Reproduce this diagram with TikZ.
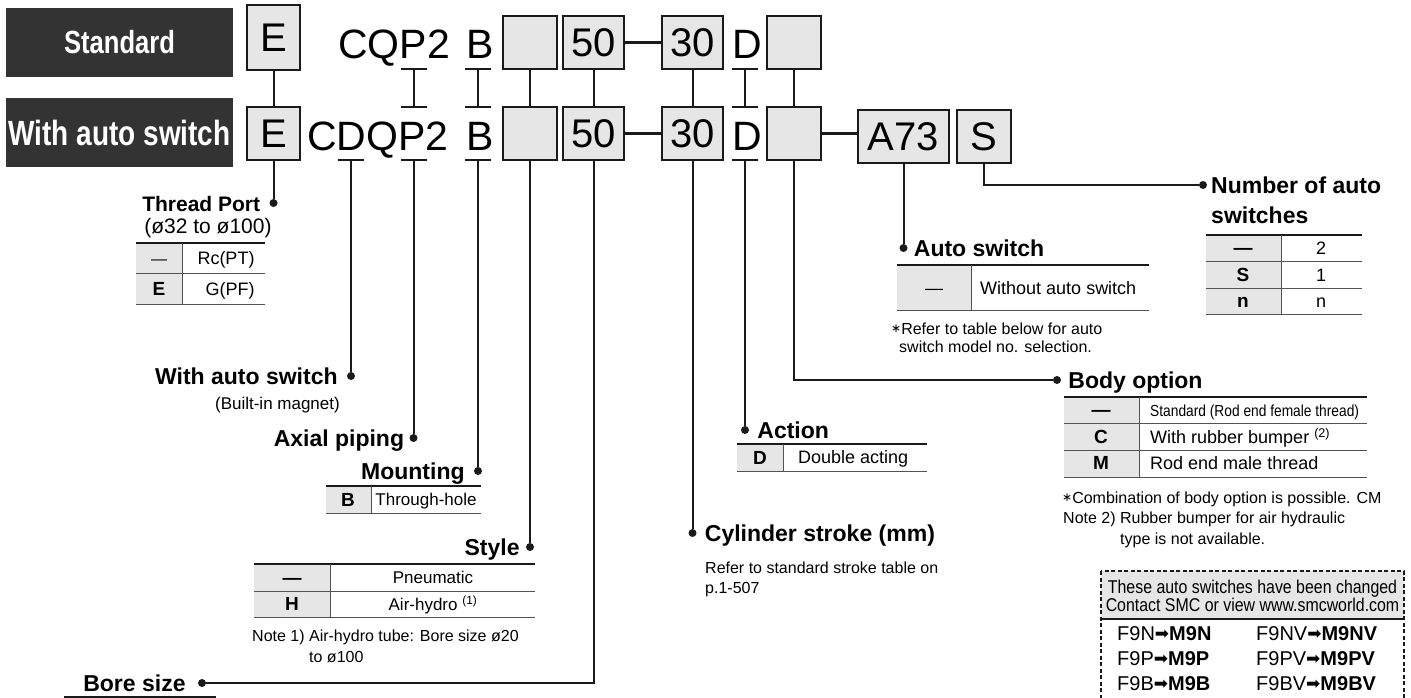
\documentclass[tikz,border=0pt]{standalone}
\usepackage{fontspec}
\setmainfont{Liberation Sans}
\newfontfamily\condfont[FakeStretch=0.8]{Liberation Sans}
\newfontfamily\narrowfont[FakeStretch=0.86]{Liberation Sans}
\newfontfamily\symfont{DejaVu Sans}
\usetikzlibrary{positioning, calc}
\definecolor{bannergray}{HTML}{333333}
\definecolor{boxgray}{HTML}{E6E6E6}
\definecolor{inkline}{HTML}{1A1A1A}
\newcommand{\setpx}[1]{\fontsize{#1}{#1}\selectfont}
\newcommand{\chgarrow}{{\symfont\setpx{17}\raisebox{0.5pt}{➡}}}
\newcommand{\astmark}{{\symfont\setpx{12}\raisebox{2pt}{∗}}}
\tikzset{
  % --- ordering code ---
  banner/.style={fill=bannergray, text=white, inner sep=0pt,
    minimum width=227pt, minimum height=69pt},
  codebox/.style={draw=inkline, line width=2.2pt, fill=boxgray, inner sep=0pt,
    minimum height=53pt, font=\setpx{40}},
  codetext/.style={inner sep=0pt, anchor=base west, font=\setpx{41}},
  link/.style={draw=inkline, line width=2pt},
  joinline/.style={draw=inkline, line width=3pt},
  dot/.style={circle, fill=inkline, inner sep=0pt, minimum size=8pt},
  % --- option labels and tables ---
  lbl/.style={inner sep=0pt, font=\bfseries\setpx{23}, text height=17pt, text depth=0pt},
  note/.style={inner sep=0pt, align=left, anchor=north west},
  cell/.style={inner sep=0pt, font=\setpx{18}, text height=13pt, text depth=0pt},
  keycell/.style={cell, font=\bfseries\setpx{19}},
  toprule/.style={draw=inkline, line width=2pt},
  midrule/.style={draw=inkline!75, line width=1pt},
  dashbox/.style={draw=inkline, line width=2pt, dash pattern=on 4pt off 2.5pt},
}

\begin{document}
\begin{tikzpicture}[x=1pt, y=-1pt, node distance=8pt]
  \useasboundingbox (0,0) rectangle (1411,698);
  \clip (0,0) rectangle (1411,698);

  % ---- Row titles ----
  \node[banner, font=\condfont\bfseries\setpx{32}] (stdbanner) at (119.5,42.5) {Standard};
  \node[banner, font=\condfont\bfseries\setpx{35}] (swbanner) at (119.5,133) {With auto switch};

  % ---- Standard code ----
  \node[codebox, minimum width=53pt, minimum height=65pt] (eT) at (273.5,37.5) {E};
  \node[codetext] (seriesT) at (338,59) {CQP2};
  \node[codetext] (mountT) at (466,59) {B};
  \node[codebox, minimum width=54pt] (blankT) at (530,42.5) {};
  \node[codebox, minimum width=61pt] (boreT) at (593.5,42.5) {50};
  \node[codebox, minimum width=61pt] (strokeT) at (692.5,42.5) {30};
  \node[codetext] (actT) at (732,59) {D};
  \node[codebox, minimum width=54pt] (optT) at (794,42.5) {};

  % ---- Code with auto switch ----
  \node[codebox, minimum width=53pt] (eB) at (273.5,133.5) {E};
  \node[codetext] (seriesB) at (307,150) {CDQP2};
  \node[codetext] (mountB) at (466,150) {B};
  \node[codebox, minimum width=54pt] (blankB) at (530,133.5) {};
  \node[codebox, minimum width=61pt] (boreB) at (593.5,133.5) {50};
  \node[codebox, minimum width=61pt] (strokeB) at (692.5,133.5) {30};
  \node[codetext] (actB) at (732,150) {D};
  \node[codebox, minimum width=54pt] (optB) at (794,133.5) {};
  \node[codebox, minimum width=91pt] (swB) at (903.5,136.5) {A73};
  \node[codebox, minimum width=54pt] (numB) at (984,136.5) {S};

  \draw[joinline] (boreT.east) -- (strokeT.west);
  \draw[joinline] (boreB.east) -- (strokeB.west);
  \draw[joinline] (optB.east) -- (optB.east -| swB.west);

  % ---- Links between the two rows ----
  \foreach \a in {e,blank,bore,stroke,opt}{ \draw[link] (\a T.south) -- (\a B.north); }
  \foreach \n/\x in {p/413.5, b/478, d/745}{
    \coordinate (\n-top) at (\x,69);
    \coordinate (\n-bot) at (\x,107);
    \draw[link] (\n-top) -- (\n-bot);
    \draw[link] ($(\n-top)+(-13,0)$) -- ($(\n-top)+(13,0)$);
    \draw[link] ($(\n-bot)+(-13,0)$) -- ($(\n-bot)+(13,0)$);
  }
  \foreach \n/\x in {q/351, p/413.5, b/478, d/745}{
    \coordinate (\n-low) at (\x,160);
    \draw[link] ($(\n-low)+(-13,0)$) -- ($(\n-low)+(13,0)$);
  }

  % ---- Leaders to the option labels ----
  \node[dot] (portdot) at (273.5,203) {};
  \node[dot] (magdot) at (351,376) {};
  \node[dot] (pipedot) at (413.5,438) {};
  \node[dot] (mountdot) at (478,471) {};
  \node[dot] (styledot) at (530,547) {};
  \node[dot] (boredot) at (202,683) {};
  \node[dot] (strokedot) at (692.5,533) {};
  \node[dot] (actdot) at (745,430) {};
  \node[dot] (optdot) at (1057,380) {};
  \node[dot] (swdot) at (903.5,248) {};
  \node[dot] (numdot) at (1203,185) {};

  \draw[link] (eB.south) -- (portdot);
  \draw[link] (q-low) -- (magdot);
  \draw[link] (p-low) -- (pipedot);
  \draw[link] (b-low) -- (mountdot);
  \draw[link] (blankB.south) -- (styledot);
  \draw[link] (boreB.south) |- (boredot);
  \draw[link] (strokeB.south) -- (strokedot);
  \draw[link] (d-low) -- (actdot);
  \draw[link] (optB.south) |- (optdot);
  \draw[link] (swB.south) -- (swdot);
  \draw[link] (numB.south) |- (numdot);

  % ---- Thread port ----
  \node[lbl, font=\bfseries\setpx{21}, left=9pt of portdot] (portlbl) {Thread Port};
  \node[inner sep=0pt, font=\setpx{21}] (portrange) at (208,228) {(ø32 to ø100)};
  \fill[boxgray] (136,243) rectangle (182,304);
  \draw[toprule] (136,243) -- (265,243);
  \draw[midrule] (136,273) -- (265,273) (136,304) -- (265,304) (182,243) -- (182,304);
  \node[cell, font=\setpx{16}] (portk1) at (159,258) {—};
  \node[cell] (portv1) at (226,258) {Rc(PT)};
  \node[keycell] (portk2) at (159,289) {E};
  \node[cell] (portv2) at (230,289) {G(PF)};

  % ---- Built-in magnet, piping, mounting ----
  \node[lbl, left=9pt of magdot] (maglbl) {With auto switch};
  \node[inner sep=0pt, font=\setpx{17}, anchor=east] (magnote) at (340,405) {(Built-in magnet)};
  \node[lbl, left=5pt of pipedot] (pipelbl) {Axial piping};
  \node[lbl, left=9pt of mountdot] (mountlbl) {Mounting};
  \fill[boxgray] (326,486) rectangle (371,513);
  \draw[toprule] (326,486) -- (481,486);
  \draw[midrule] (326,513) -- (481,513) (371,486) -- (371,513);
  \node[keycell] (mountk1) at (348,500) {B};
  \node[cell, font=\setpx{17}] (mountv1) at (426,499) {Through-hole};

  % ---- Style ----
  \node[lbl, left=6pt of styledot] (stylelbl) {Style};
  \fill[boxgray] (254,564) rectangle (330,617);
  \draw[toprule] (254,564) -- (535,564);
  \draw[midrule] (254,591) -- (535,591) (254,617) -- (535,617) (330,564) -- (330,617);
  \node[keycell] (stylek1) at (292,578) {—};
  \node[cell, font=\setpx{17}] (stylev1) at (433,577) {Pneumatic};
  \node[keycell] (stylek2) at (292,604) {H};
  \node[cell, font=\setpx{17}] (stylev2) at (433,604) {Air-hydro \textsuperscript{(1)}};
  \node[note, font=\fontsize{16}{21}\selectfont] (stylenote) at (252,630)
    {Note 1) Air-hydro tube: Bore size ø20\\\hspace*{57pt}to ø100};

  % ---- Bore size ----
  \node[lbl, left=12pt of boredot] (borelbl) {Bore size};
  \draw[toprule] (64,697) -- (216,697);

  % ---- Cylinder stroke ----
  \node[lbl, right=8pt of strokedot] (strokelbl) {Cylinder stroke (mm)};
  \node[note, font=\fontsize{16}{20}\selectfont] (strokenote) at (705,562)
    {Refer to standard stroke table on\\p.1-507};

  % ---- Action ----
  \node[lbl, right=8pt of actdot] (actlbl) {Action};
  \fill[boxgray] (737,444) rectangle (783,471);
  \draw[toprule] (737,444) -- (927,444);
  \draw[midrule] (737,471) -- (927,471) (783,444) -- (783,471);
  \node[keycell] (actk1) at (760,458) {D};
  \node[cell, anchor=west] (actv1) at (798,457) {Double acting};

  % ---- Auto switch ----
  \node[lbl, right=6pt of swdot] (swlbl) {Auto switch};
  \fill[boxgray] (897,265) rectangle (971,310);
  \draw[toprule] (897,265) -- (1149,265);
  \draw[midrule] (897,310) -- (1149,310) (971,265) -- (971,310);
  \node[cell] (swk1) at (934,288) {—};
  \node[cell, anchor=west] (swv1) at (980,288) {Without auto switch};
  \node[note, font=\fontsize{16}{18}\selectfont] (swnote) at (891,323)
    {\astmark Refer to table below for auto\\\hspace*{8pt}switch model no. selection.};

  % ---- Number of auto switches ----
  \node[note, font=\bfseries\fontsize{23}{30}\selectfont] (numlbl) at (1211,176.5)
    {Number of auto\\switches};
  \fill[boxgray] (1206,235) rectangle (1281,314);
  \draw[toprule] (1206,235) -- (1362,235);
  \draw[midrule] (1206,261) -- (1362,261) (1206,288) -- (1362,288) (1206,314) -- (1362,314)
    (1281,235) -- (1281,314);
  \node[keycell] (numk1) at (1243,248) {—};
  \node[cell] (numv1) at (1321,248) {2};
  \node[keycell] (numk2) at (1243,275) {S};
  \node[cell] (numv2) at (1321,275) {1};
  \node[keycell] (numk3) at (1243,301) {n};
  \node[cell] (numv3) at (1321,301) {n};

  % ---- Body option ----
  \node[lbl, right=7pt of optdot] (optlbl) {Body option};
  \fill[boxgray] (1064,397) rectangle (1139,477);
  \draw[toprule] (1064,397) -- (1367,397);
  \draw[midrule] (1064,423) -- (1367,423) (1064,450) -- (1367,450) (1064,477) -- (1367,477)
    (1139,397) -- (1139,477);
  \node[keycell] (optk1) at (1101,410) {—};
  \node[cell, anchor=west, font=\narrowfont\setpx{16}] (optv1) at (1150,410) {Standard (Rod end female thread)};
  \node[keycell] (optk2) at (1101,437) {C};
  \node[cell, anchor=west] (optv2) at (1150,437) {With rubber bumper \textsuperscript{(2)}};
  \node[keycell] (optk3) at (1101,463) {M};
  \node[cell, anchor=west] (optv3) at (1150,463) {Rod end male thread};
  \node[cell, anchor=west, font=\setpx{16}] (optnote) at (1062,497)
    {\astmark Combination of body option is possible. CM};
  \node[note, font=\fontsize{16}{21}\selectfont] (bumpnote) at (1063,512)
    {Note 2) Rubber bumper for air hydraulic\\\hspace*{57pt}type is not available.};

  % ---- Changed auto switches ----
  \fill[boxgray] (1101,571) rectangle (1404,619);
  \draw[link, line width=1.5pt] (1101,619) -- (1404,619);
  \draw[dashbox] (1101,571) rectangle (1404,730);
  \node[inner sep=0pt, align=center, font=\narrowfont\fontsize{18.5}{18}\selectfont] (chghead) at (1252.5,596)
    {These auto switches have been changed\\Contact SMC or view www.smcworld.com};
  \foreach \o/\n/\y in {N/1/640, P/2/665, B/3/690}{
    \node[inner sep=0pt, anchor=base west, font=\setpx{20}] (old\n) at (1117,\y) {F9\o\chgarrow\textbf{M9\o}};
    \node[inner sep=0pt, anchor=base west, font=\setpx{20}] (oldv\n) at (1256,\y) {F9\o V\chgarrow\textbf{M9\o V}};
  }
\end{tikzpicture}
\end{document}
